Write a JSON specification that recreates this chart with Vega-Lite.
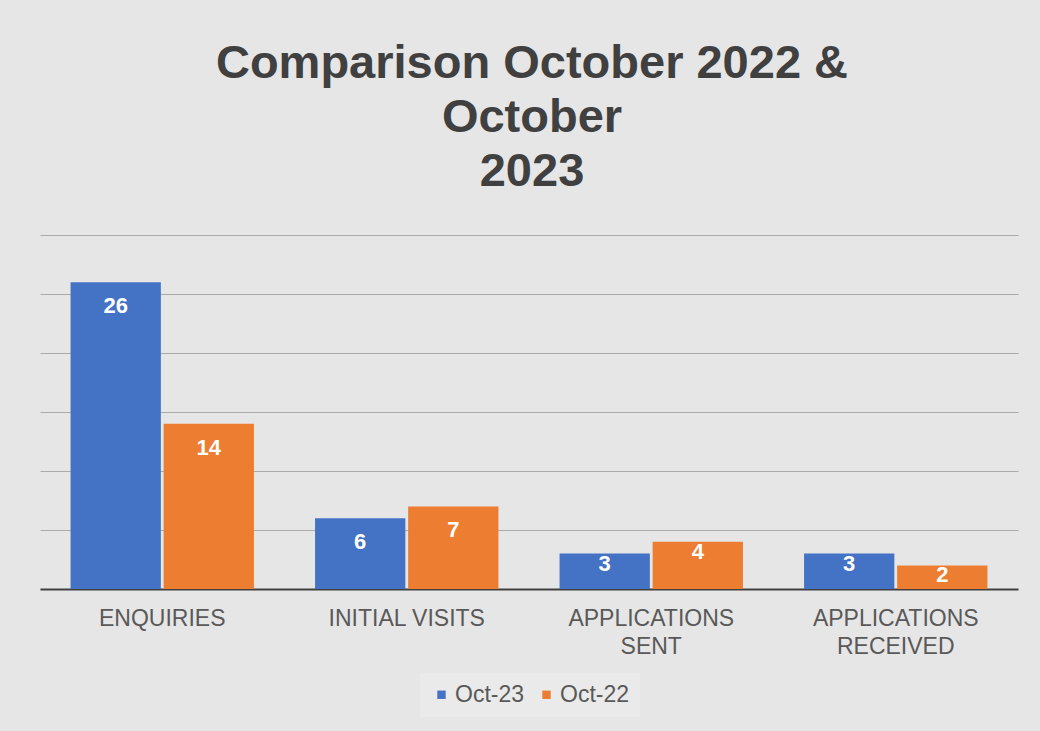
{
  "$schema": "https://vega.github.io/schema/vega-lite/v6.json",
  "width": 978,
  "height": 354,
  "autosize": "none",
  "padding": {"left": 40, "top": 235, "right": 22, "bottom": 142},
  "background": "#e6e6e6",
  "title": {
    "text": ["Comparison October 2022 &", "October", "2023"],
    "font": "Liberation Sans",
    "fontSize": 47,
    "fontWeight": "bold",
    "color": "#404040",
    "lineHeight": 54,
    "anchor": "middle",
    "offset": 39,
    "dx": 3
  },
  "data": {
    "values": [
      {"cat": "ENQUIRIES", "series": "Oct-23", "value": 26},
      {"cat": "ENQUIRIES", "series": "Oct-22", "value": 14},
      {"cat": "INITIAL VISITS", "series": "Oct-23", "value": 6},
      {"cat": "INITIAL VISITS", "series": "Oct-22", "value": 7},
      {"cat": "APPLICATIONS SENT", "series": "Oct-23", "value": 3},
      {"cat": "APPLICATIONS SENT", "series": "Oct-22", "value": 4},
      {"cat": "APPLICATIONS RECEIVED", "series": "Oct-23", "value": 3},
      {"cat": "APPLICATIONS RECEIVED", "series": "Oct-22", "value": 2}
    ]
  },
  "encoding": {
    "x": {
      "field": "cat",
      "type": "nominal",
      "sort": null,
      "scale": {"paddingInner": 0.25, "paddingOuter": 0.125},
      "axis": {
        "title": null,
        "labelAngle": 0,
        "labelFont": "Liberation Sans",
        "labelFontSize": 23,
        "labelColor": "#595959",
        "labelPadding": 18,
        "labelLineHeight": 28,
        "labelLimit": 0,
        "ticks": false,
        "domainColor": "#404040",
        "domainWidth": 2,
        "grid": false,
        "labelExpr": "datum.value == 'APPLICATIONS SENT' ? ['APPLICATIONS', 'SENT'] : datum.value == 'APPLICATIONS RECEIVED' ? ['APPLICATIONS', 'RECEIVED'] : datum.value"
      }
    },
    "xOffset": {
      "field": "series",
      "type": "nominal",
      "sort": ["Oct-23", "Oct-22"],
      "scale": {"paddingInner": 0.03}
    },
    "y": {
      "field": "value",
      "type": "quantitative",
      "scale": {"domain": [0, 30], "nice": false},
      "axis": {
        "title": null,
        "labels": false,
        "ticks": false,
        "domain": false,
        "values": [0, 5, 10, 15, 20, 25, 30],
        "gridColor": "#ababab",
        "gridWidth": 1
      }
    }
  },
  "layer": [
    {
      "mark": {"type": "bar"},
      "encoding": {
        "color": {
          "field": "series",
          "type": "nominal",
          "scale": {"domain": ["Oct-23", "Oct-22"], "range": ["#4472c4", "#ed7d31"]},
          "legend": {
            "orient": "none",
            "legendX": 380,
            "legendY": 438,
            "direction": "horizontal",
            "title": null,
            "symbolType": "square",
            "symbolSize": 70,
            "symbolOffset": 0,
            "labelOffset": 2,
            "labelFont": "Liberation Sans",
            "labelFontSize": 23,
            "labelColor": "#595959",
            "columnPadding": 10,
            "padding": 10,
            "fillColor": "#eaeaea"
          }
        }
      }
    },
    {
      "transform": [{"filter": "datum.value >= 5"}],
      "mark": {"type": "text", "baseline": "middle", "dy": 24, "color": "white", "font": "Liberation Sans", "fontSize": 22, "fontWeight": "bold"},
      "encoding": {"text": {"field": "value", "type": "quantitative"}}
    },
    {
      "transform": [{"filter": "datum.value < 5"}],
      "mark": {"type": "text", "baseline": "middle", "dy": 10, "color": "white", "font": "Liberation Sans", "fontSize": 22, "fontWeight": "bold"},
      "encoding": {"text": {"field": "value", "type": "quantitative"}}
    }
  ],
  "config": {
    "view": {"stroke": null}
  }
}
